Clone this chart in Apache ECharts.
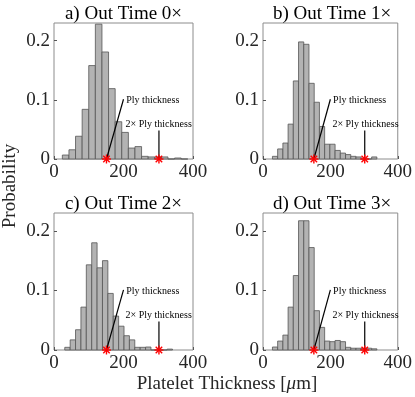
<!DOCTYPE html>
<html>
<head>
<meta charset="utf-8">
<script src="https://cdn.jsdelivr.net/npm/echarts@6/dist/echarts.min.js"></script>
<style>
  html, body { margin: 0; padding: 0; background: #fff; }
  #chart { width: 415px; height: 397px; }
</style>
</head>
<body>
<div id="chart"></div>
<script>
  // histogram bin edges (um) and probability per bin
  var edgesA = [24, 43, 62, 81, 100, 119, 138, 157, 176, 195, 214, 233, 252, 271, 290, 309, 328, 347, 366, 385];
  var probA = [0.0067, 0.0156, 0.0385, 0.084, 0.158, 0.228, 0.181, 0.119, 0.063, 0.045, 0.0185, 0.021, 0.0045, 0.0035, 0.0035, 0.0035, 0, 0.0017, 0];

  var edgesB = [28, 43.5, 59, 74.5, 90, 105.5, 121, 136.5, 152, 167.5, 183, 198.5, 214, 229.5, 245, 260.5, 276, 291.5, 307, 322.5, 338];
  var probB = [0.0045, 0.017, 0.027, 0.059, 0.132, 0.198, 0.194, 0.128, 0.096, 0.055, 0.025, 0.025, 0.0145, 0.010, 0.0075, 0.0045, 0.0035, 0, 0, 0.0035];

  var edgesC = [31, 46.5, 62, 77.5, 93, 108.5, 124, 139.5, 155, 170.5, 186, 201.5, 217, 232.5, 248, 263.5, 279, 294.5, 310, 325.5, 341];
  var probC = [0.0045, 0.017, 0.034, 0.072, 0.143, 0.180, 0.138, 0.150, 0.095, 0.057, 0.040, 0.024, 0.017, 0.0045, 0.0045, 0.005, 0, 0, 0, 0.0015];

  var edgesD = [28, 43.5, 59, 74.5, 90, 105.5, 121, 136.5, 152, 167.5, 183, 198.5, 214, 229.5, 245, 260.5, 276, 291.5, 307, 322.5, 338];
  var probD = [0.005, 0.015, 0.025, 0.072, 0.125, 0.217, 0.217, 0.172, 0.066, 0.038, 0.015, 0.014, 0.016, 0.014, 0.0045, 0.003, 0.003, 0.003, 0.003, 0.002];

  var titles = ['a) Out Time 0\u00d7', 'b) Out Time 1\u00d7', 'c) Out Time 2\u00d7', 'd) Out Time 3\u00d7'];
  var plyMarks = [151, 302];   // ply thickness and 2x ply thickness
  var noteTexts = ['Ply thickness', '2\u00d7 Ply thickness'];
  // [x0, y0, x1, y1, textX, textY] in data units
  var notes = [
    [151, 0, 200, 0.101, 208, 0.099],
    [302, 0, 302, 0.048, 206, 0.058]
  ];

  var serif = '"Liberation Serif", "Times New Roman", serif';

  var panels = [
    { edges: edgesA, prob: probA },
    { edges: edgesB, prob: probB },
    { edges: edgesC, prob: probC },
    { edges: edgesD, prob: probD }
  ];

  var grids = [
    { left: 54, top: 23, width: 139, height: 136 },
    { left: 263, top: 23, width: 138, height: 136 },
    { left: 54, top: 213, width: 139, height: 137 },
    { left: 263, top: 213, width: 138, height: 137 }
  ];

  function renderBar(params, api) {
    var a = api.coord([api.value(0), api.value(2)]);
    var b = api.coord([api.value(1), 0]);
    return {
      type: 'rect',
      shape: { x: a[0], y: a[1], width: b[0] - a[0], height: b[1] - a[1] },
      style: { fill: '#b3b3b3', stroke: '#555555', lineWidth: 0.8 }
    };
  }

  function renderStar(params, api) {
    var p = api.coord([api.value(0), 0]);
    var r = 4.5, d = r * 0.72;
    var segs = [[-r, 0, r, 0], [0, -r, 0, r], [-d, -d, d, d], [-d, d, d, -d]];
    return {
      type: 'group',
      children: segs.map(function (s) {
        return {
          type: 'line',
          shape: { x1: p[0] + s[0], y1: p[1] + s[1], x2: p[0] + s[2], y2: p[1] + s[3] },
          style: { stroke: '#ff0000', lineWidth: 1.4 }
        };
      })
    };
  }

  function renderNote(params, api) {
    var p0 = api.coord([api.value(0), api.value(1)]);
    var p1 = api.coord([api.value(2), api.value(3)]);
    var pt = api.coord([api.value(4), api.value(5)]);
    return {
      type: 'group',
      children: [
        { type: 'line', shape: { x1: p0[0], y1: p0[1], x2: p1[0], y2: p1[1] }, style: { stroke: '#000', lineWidth: 1.2 } },
        { type: 'text', x: pt[0], y: pt[1], style: { text: noteTexts[params.dataIndex], fill: '#000', fontSize: 10, fontFamily: serif, align: 'left', verticalAlign: 'middle' } }
      ]
    };
  }

  var chart = echarts.init(document.getElementById('chart'));

  var xAxis = [], yAxis = [], series = [], graphic = [];
  panels.forEach(function (pn, i) {
    xAxis.push({
      gridIndex: i, type: 'value', min: 0, max: 400, interval: 200,
      axisLine: { show: false },
      axisTick: { inside: true, length: 3, lineStyle: { color: '#555' } },
      splitLine: { show: false },
      axisLabel: { fontSize: 19, fontFamily: serif, color: '#262626', margin: 4 }
    });
    yAxis.push({
      gridIndex: i, type: 'value', min: 0, max: 0.23, interval: 0.1,
      axisLine: { show: false },
      axisTick: { inside: true, length: 3, lineStyle: { color: '#555' } },
      splitLine: { show: false },
      axisLabel: {
        fontSize: 19, fontFamily: serif, color: '#262626', margin: 4, showMaxLabel: false,
        formatter: function (v) {
          if (v === 0) return '0';
          if (Math.abs(v * 10 - Math.round(v * 10)) < 1e-6) return v.toFixed(1);
          return '';
        }
      }
    });
    var bars = [];
    for (var k = 0; k < pn.prob.length; k++) {
      bars.push([pn.edges[k], pn.edges[k + 1], pn.prob[k]]);
    }
    series.push({
      type: 'custom', xAxisIndex: i, yAxisIndex: i, renderItem: renderBar,
      encode: { x: [0, 1], y: 2 }, data: bars, silent: true, z: 2
    });
    series.push({
      type: 'custom', xAxisIndex: i, yAxisIndex: i, renderItem: renderNote,
      encode: { x: [0, 2], y: [1, 3] }, data: notes, silent: true, z: 3
    });
    series.push({
      type: 'custom', xAxisIndex: i, yAxisIndex: i, renderItem: renderStar,
      encode: { x: 0 }, data: plyMarks.map(function (v) { return [v]; }), silent: true, z: 4
    });
    var g = grids[i];
    graphic.push({
      type: 'text', x: g.left + g.width / 2, y: g.top - 9,
      style: { text: titles[i], fontSize: 19, fontFamily: serif, fill: '#000', align: 'center', verticalAlign: 'middle' }
    });
  });

  graphic.push({
    type: 'text', x: 10, y: 186, rotation: Math.PI / 2,
    style: { text: 'Probability', fontSize: 19, fontFamily: serif, fill: '#262626', align: 'center', verticalAlign: 'middle' }
  });
  graphic.push({
    type: 'text', x: 227, y: 384,
    style: {
      text: '{n|Platelet Thickness [}{i|\u03bc}{n|m]}',
      align: 'center', verticalAlign: 'middle',
      rich: {
        n: { fontSize: 19, fontFamily: serif, fill: '#262626' },
        i: { fontSize: 19, fontFamily: serif, fontStyle: 'italic', fill: '#262626' }
      }
    }
  });

  chart.setOption({
    animation: false,
    grid: grids.map(function (g) {
      return { left: g.left, top: g.top, width: g.width, height: g.height, show: true, borderColor: '#8c8c8c', borderWidth: 1, backgroundColor: 'transparent' };
    }),
    xAxis: xAxis,
    yAxis: yAxis,
    series: series,
    graphic: graphic
  });
</script>
</body>
</html>
